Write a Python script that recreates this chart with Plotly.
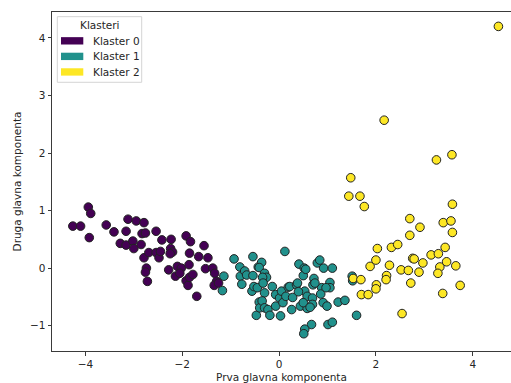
import plotly.graph_objects as go

# ---- data ----
cluster_names = ["Klaster 0", "Klaster 1", "Klaster 2"]
cluster_colors = ["#440154", "#21918c", "#fde725"]

x0 = [-4.26, -4.10, -3.94, -3.89, -3.92, -3.57, -3.41, -3.12, -2.95, -2.79,
      -3.16, -3.28, -3.16, -3.02, -3.00, -2.85, -2.83, -2.76, -2.79, -2.69,
      -2.74, -2.76, -2.72, -2.54, -2.54, -2.48, -2.45, -2.42, -2.23, -2.24,
      -2.20, -2.25, -2.28, -2.10, -2.02, -2.14, -2.05, -1.92, -1.83, -1.85,
      -1.86, -1.92, -1.88, -1.85, -1.78, -1.70, -1.66, -1.55, -1.47, -1.52,
      -1.37, -1.33, -1.29, -1.34, -1.25]
y0 = [0.73, 0.73, 1.06, 0.95, 0.53, 0.75, 0.63, 0.85, 0.82, 0.79,
      0.64, 0.43, 0.40, 0.47, 0.34, 0.41, 0.60, 0.61, 0.18, 0.27,
      0.00, -0.07, -0.23, 0.64, 0.27, 0.18, 0.29, 0.49, 0.50, 0.34,
      0.28, 0.25, -0.03, 0.03, 0.00, -0.14, -0.09, 0.56, 0.46, 0.26,
      0.06, -0.22, -0.30, -0.16, -0.11, -0.49, 0.20, 0.39, 0.18, -0.01,
      0.00, -0.09, -0.23, -0.30, -0.26]

x1 = [-1.14, -1.17, -0.93, -0.81, -0.80, -0.77, -0.71, -0.67, -0.54, -0.54,
      -0.56, -0.52, -0.47, -0.43, -0.45, -0.41, -0.40, -0.36, -0.41, -0.30,
      -0.26, -0.34, -0.33, -0.30, -0.14, -0.35, -0.30, -0.23, -0.19, 0.03,
      -0.07, -0.07, 0.01, 0.05, 0.12, 0.08, 0.14, 0.19, 0.22, 0.28,
      0.26, 0.36, 0.38, 0.41, 0.52, 0.50, 0.53, 0.44, 0.58, 0.58,
      0.50, 0.67, 0.53, 0.51, 0.72, 0.70, 0.69, 0.69, 0.79, 0.84,
      0.88, 0.86, 0.91, 0.92, 0.99, 1.05, 1.05, 0.97, 1.10, 1.01,
      1.10, 1.22, 1.36, 1.51, 1.52, 1.60, 0.55, 0.74, 0.40, 0.64]
y1 = [-0.14, -0.39, 0.16, 0.02, -0.14, -0.28, -0.05, -0.12, 0.20, -0.13,
      -0.40, -0.32, -0.82, 0.02, -0.34, -0.59, -0.69, 0.10, 0.01, -0.09,
      -0.16, -0.16, -0.26, -0.43, -0.32, -0.57, -0.69, -0.72, -0.82, -0.83,
      -0.46, -0.66, -0.52, -0.40, 0.29, -0.60, -0.49, -0.33, -0.32, -0.51,
      -0.72, -0.29, -0.26, 0.07, 0.00, -0.13, -0.40, -0.66, -0.49, -0.70,
      -0.60, -0.98, -1.06, -1.14, -0.18, -0.29, -0.52, -0.63, 0.09, 0.14,
      -0.34, -0.45, -0.60, 0.00, -0.66, -0.25, -0.34, -0.34, 0.00, -0.98,
      -0.94, -0.59, -0.56, -0.14, -0.22, -0.82, -0.02, -0.26, -0.41, -0.68]

x2 = [4.53, 2.17, 3.25, 3.57, 1.48, 1.44, 1.67, 1.76, 3.58, 2.70,
      3.39, 3.55, 2.91, 2.70, 3.58, 2.03, 2.32, 2.45, 3.43, 3.14,
      3.29, 2.76, 2.79, 2.00, 2.97, 3.46, 1.88, 2.28, 2.52, 2.67,
      2.89, 3.32, 3.28, 3.65, 1.53, 1.69, 2.22, 2.21, 2.72, 3.74,
      2.01, 2.00, 1.70, 1.84, 3.38, 2.54]
y2 = [4.20, 2.57, 1.88, 1.97, 1.57, 1.25, 1.25, 1.07, 1.11, 0.86,
      0.79, 0.82, 0.71, 0.57, 0.62, 0.34, 0.36, 0.41, 0.36, 0.23,
      0.25, 0.17, 0.16, 0.14, 0.09, 0.11, 0.03, 0.05, -0.03, -0.04,
      -0.07, 0.02, -0.09, 0.04, -0.18, -0.20, -0.13, -0.20, -0.26, -0.30,
      -0.29, -0.36, -0.46, -0.46, -0.44, -0.79]

x_ticks = [-4, -2, 0, 2, 4]
x_tick_text = ["\u22124", "\u22122", "0", "2", "4"]
y_ticks = [-1, 0, 1, 2, 3, 4]
y_tick_text = ["\u22121", "0", "1", "2", "3", "4"]

legend_title = "Klasteri"
x_title = "Prva glavna komponenta"
y_title = "Druga glavna komponenta"

# ---- figure ----
W, H = 511, 383
ML, MR, MT, MB = 52, 0, 12, 30
PW, PH = W - ML - MR, H - MT - MB
FONT = "DejaVu Sans"
TXT = "#262626"
AX = "#3a3a3a"

fig = go.Figure()
for xs, ys, name, col in zip([x0, x1, x2], [y0, y1, y2], cluster_names, cluster_colors):
    fig.add_trace(go.Scatter(
        x=xs, y=ys, mode="markers", name=name, showlegend=False,
        marker=dict(size=8.6, color=col, line=dict(color="#222222", width=1)),
    ))


def px2paper(px, py):
    return (px - ML) / PW, (H - MB - py) / PH


shapes = []
annotations = []
# legend frame
bx0, by0 = px2paper(57.3, 82.7)
bx1, by1 = px2paper(141.7, 16.7)
shapes.append(dict(type="rect", xref="paper", yref="paper", x0=bx0, y0=by0, x1=bx1, y1=by1,
                   line=dict(color="#d4d4d4", width=1), fillcolor="rgba(255,255,255,0.85)", layer="above"))
tx, ty = px2paper(99.5, 25)
annotations.append(dict(text=legend_title, x=tx, y=ty, xref="paper", yref="paper",
                        showarrow=False, xanchor="center", yanchor="middle",
                        font=dict(family=FONT, size=10.5, color=TXT)))
for i, (name, col) in enumerate(zip(cluster_names, cluster_colors)):
    cy = 41 + i * 15.65
    rx0, ry0 = px2paper(61, cy + 3.7)
    rx1, ry1 = px2paper(83.3, cy - 3.7)
    shapes.append(dict(type="rect", xref="paper", yref="paper", x0=rx0, y0=ry0, x1=rx1, y1=ry1,
                       line=dict(width=0), fillcolor=col, layer="above"))
    lx, ly = px2paper(90.5, cy)
    annotations.append(dict(text=name, x=lx, y=ly, xref="paper", yref="paper",
                            showarrow=False, xanchor="left", yanchor="middle",
                            font=dict(family=FONT, size=10.5, color=TXT)))

fig.update_layout(
    width=W, height=H,
    margin=dict(l=ML, r=MR, t=MT, b=MB, pad=0),
    paper_bgcolor="white", plot_bgcolor="white",
    font=dict(family=FONT, size=10.5, color=TXT),
    shapes=shapes, annotations=annotations,
    showlegend=False,
)
fig.update_xaxes(
    range=[-4.69, 4.79], showgrid=False, zeroline=False,
    showline=True, linecolor=AX, linewidth=1, mirror=True,
    ticks="outside", ticklen=3.5, tickcolor=AX, tickwidth=1,
    tickvals=x_ticks, ticktext=x_tick_text,
    title=dict(text=x_title, standoff=6, font=dict(family=FONT, size=10.5, color=TXT)),
)
fig.update_yaxes(
    range=[-1.44, 4.45], showgrid=False, zeroline=False,
    showline=True, linecolor=AX, linewidth=1, mirror=False,
    ticks="outside", ticklen=3.5, tickcolor=AX, tickwidth=1,
    tickvals=y_ticks, ticktext=y_tick_text,
    title=dict(text=y_title, standoff=6, font=dict(family=FONT, size=10.5, color=TXT)),
)

fig.write_html("out.html", config={"displayModeBar": False},
               post_script="document.body.style.margin='0';document.body.style.overflow='hidden';")
